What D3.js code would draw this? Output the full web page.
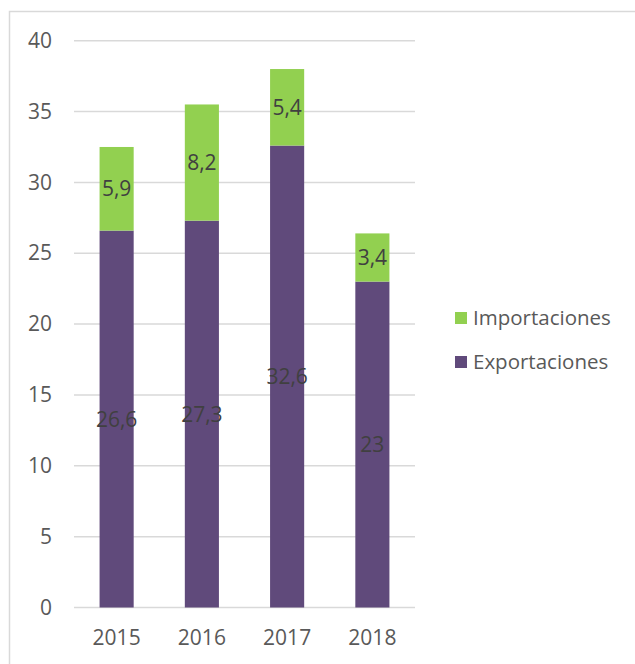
<!DOCTYPE html>
<html>
<head>
<meta charset="utf-8">
<script src="https://cdn.jsdelivr.net/npm/d3@7"></script>
<style>
  html, body { margin: 0; padding: 0; background: #fff; }
  svg { display: block; }
  text { font-family: "Open Sans", "Noto Sans", sans-serif; }
</style>
</head>
<body>
<svg id="chart" width="635" height="664"></svg>
<script>
const years = ["2015", "2016", "2017", "2018"];
const exportaciones = [26.6, 27.3, 32.6, 23];
const importaciones = [5.9, 8.2, 5.4, 3.4];
const yTicks = [0, 5, 10, 15, 20, 25, 30, 35, 40];
const seriesNames = ["Exportaciones", "Importaciones"];
const seriesColors = ["#604A7B", "#92D050"];

const fmt = v => String(v).replace(".", ",");
const FS = 21;

const svg = d3.select("#chart");

// outer chart border (top and left visible)
svg.append("path")
  .attr("d", "M9.5,670 L9.5,11.5 L640,11.5")
  .attr("fill", "none")
  .attr("stroke", "#D9D9D9")
  .attr("stroke-width", 1.5);

const x = d3.scaleBand().domain(years).range([74, 415]).paddingInner(0.6).paddingOuter(0.3);
const y = d3.scaleLinear().domain([0, 40]).range([607.5, 40.7]);

// gridlines
svg.append("g").selectAll("line").data(yTicks).join("line")
  .attr("x1", 74).attr("x2", 415)
  .attr("y1", d => y(d)).attr("y2", d => y(d))
  .attr("stroke", "#D9D9D9").attr("stroke-width", 1.5);

// y axis labels
const yAxis = d3.axisLeft(y).tickValues(yTicks).tickSize(0).tickPadding(0);
const gy = svg.append("g").attr("transform", "translate(52,0)").call(yAxis);
gy.select(".domain").remove();
gy.selectAll("text")
  .attr("fill", "#595959").attr("font-size", FS)
  .style("font-family", "'Open Sans', sans-serif");

// x axis labels
const xAxis = d3.axisBottom(x).tickSize(0).tickPadding(0);
const gx = svg.append("g").attr("transform", "translate(0,630)").call(xAxis);
gx.select(".domain").remove();
gx.selectAll("text")
  .attr("fill", "#595959").attr("font-size", FS)
  .style("font-family", "'Open Sans', sans-serif");

// stacked data
const table = years.map((yr, i) => ({ year: yr, Exportaciones: exportaciones[i], Importaciones: importaciones[i] }));
const stack = d3.stack().keys(seriesNames)(table);

const groups = svg.append("g").selectAll("g").data(stack).join("g")
  .attr("fill", (d, i) => seriesColors[i]);

groups.selectAll("rect").data(d => d).join("rect")
  .attr("x", d => x(d.data.year))
  .attr("width", x.bandwidth())
  .attr("y", d => y(d[1]))
  .attr("height", d => y(d[0]) - y(d[1]));

// data labels
const labels = svg.append("g");
stack.forEach(s => {
  s.forEach(d => {
    labels.append("text")
      .attr("x", x(d.data.year) + x.bandwidth() / 2)
      .attr("y", (y(d[0]) + y(d[1])) / 2)
      .attr("dy", "0.36em")
      .attr("text-anchor", "middle")
      .attr("fill", "#404040")
      .attr("font-size", FS)
      .text(fmt(d.data[s.key]));
  });
});

// legend
const legendItems = [
  { name: "Importaciones", color: seriesColors[1], y: 318 },
  { name: "Exportaciones", color: seriesColors[0], y: 362 }
];
const lg = svg.append("g").selectAll("g").data(legendItems).join("g")
  .attr("transform", d => `translate(455,${d.y})`);
lg.append("rect").attr("x", 0).attr("y", -6).attr("width", 12).attr("height", 12)
  .attr("fill", d => d.color);
lg.append("text").attr("x", 18).attr("dy", "0.36em")
  .attr("fill", "#595959").attr("font-size", FS - 0.5)
  .text(d => d.name);
</script>
</body>
</html>
